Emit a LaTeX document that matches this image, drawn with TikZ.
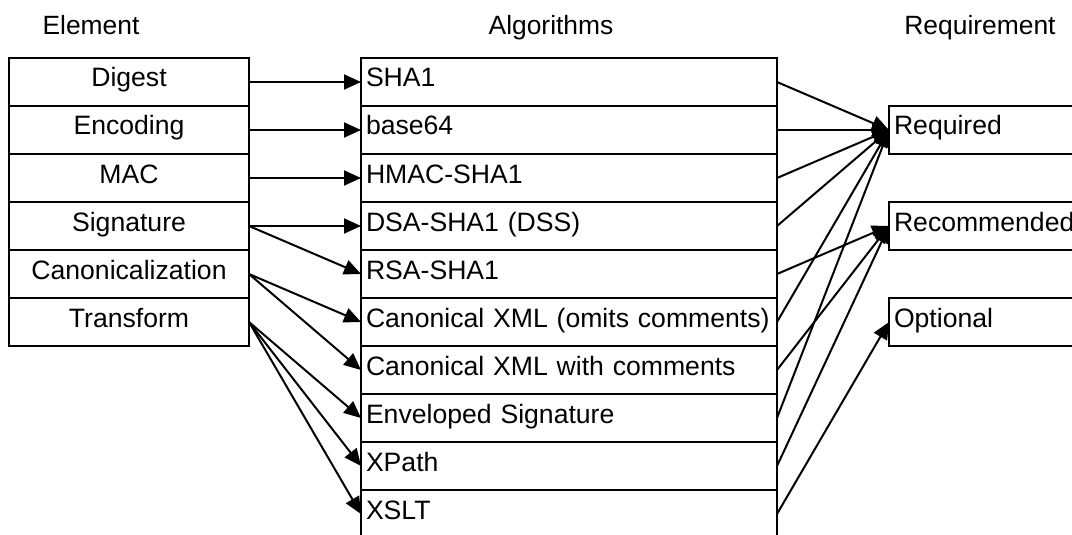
\documentclass[tikz,border=0pt]{standalone}
\usepackage{fontspec}
\setmainfont{Liberation Sans}
\usetikzlibrary{arrows.meta}
\begin{document}
\begin{tikzpicture}[x=1pt,y=-1pt,
  box/.style={draw, line width=2pt, outer sep=0pt, minimum height=48pt, inner ysep=0pt,
    text height=20pt, text depth=10pt, font=\fontsize{26.6}{30}\selectfont},
  elem/.style={box, minimum width=240pt, inner xsep=0pt},
  algo/.style={box, text width=406pt, inner xsep=5pt, align=left},
  reqbox/.style={box, text width=202pt, inner xsep=5pt, align=left},
  hdr/.style={anchor=base, inner sep=0pt, font=\fontsize{26.4}{30}\selectfont},
  conn/.style={line width=2pt, -{Triangle[length=17pt,width=15pt]}}
]
\useasboundingbox (0,0) rectangle (1072,535);
\fill[white] (0,0) rectangle (1072,535);
\clip (0,0) rectangle (1072,535);

% headers
\node[hdr] (h1) at (91,35) {Element};
\node[hdr] (h2) at (551,35) {Algorithms};
\node[hdr] (h3) at (980,35) {Requirement};

% elements
\node[elem] (e0) at (129,82)  {Digest};
\node[elem] (e1) at (129,130) {Encoding};
\node[elem] (e2) at (129,178) {MAC};
\node[elem] (e3) at (129,226) {Signature};
\node[elem] (e4) at (129,274) {Canonicalization};
\node[elem] (e5) at (129,322) {Transform};

% algorithms
\node[algo] (a0) at (569,82)  {SHA1};
\node[algo] (a1) at (569,130) {base64};
\node[algo] (a2) at (569,178) {HMAC-SHA1};
\node[algo] (a3) at (569,226) {DSA-SHA1 (DSS)};
\node[algo] (a4) at (569,274) {RSA-SHA1};
\node[algo] (a5) at (569,322) {Canonical XML (omits comments)};
\node[algo] (a6) at (569,370) {Canonical XML with comments};
\node[algo] (a7) at (569,418) {Enveloped Signature};
\node[algo] (a8) at (569,466) {XPath};
\node[algo] (a9) at (569,514) {XSLT};

% requirements
\node[reqbox] (r0) at (995,130) {Required};
\node[reqbox] (r1) at (995,226) {Recommended};
\node[reqbox] (r2) at (995,322) {Optional};

% element -> algorithm
\draw[conn] (e0.east) -- (a0.west);
\draw[conn] (e1.east) -- (a1.west);
\draw[conn] (e2.east) -- (a2.west);
\draw[conn] (e3.east) -- (a3.west);
\draw[conn] (e3.east) -- (a4.west);
\draw[conn] (e4.east) -- (a5.west);
\draw[conn] (e4.east) -- (a6.west);
\draw[conn] (e5.east) -- (a7.west);
\draw[conn] (e5.east) -- (a8.west);
\draw[conn] (e5.east) -- (a9.west);

% algorithm -> requirement
\draw[conn] (a0.east) -- (r0.west);
\draw[conn] (a1.east) -- (r0.west);
\draw[conn] (a2.east) -- (r0.west);
\draw[conn] (a3.east) -- (r0.west);
\draw[conn] (a4.east) -- (r1.west);
\draw[conn] (a5.east) -- (r0.west);
\draw[conn] (a6.east) -- (r1.west);
\draw[conn] (a7.east) -- (r0.west);
\draw[conn] (a8.east) -- (r1.west);
\draw[conn] (a9.east) -- (r2.west);
\end{tikzpicture}
\end{document}
